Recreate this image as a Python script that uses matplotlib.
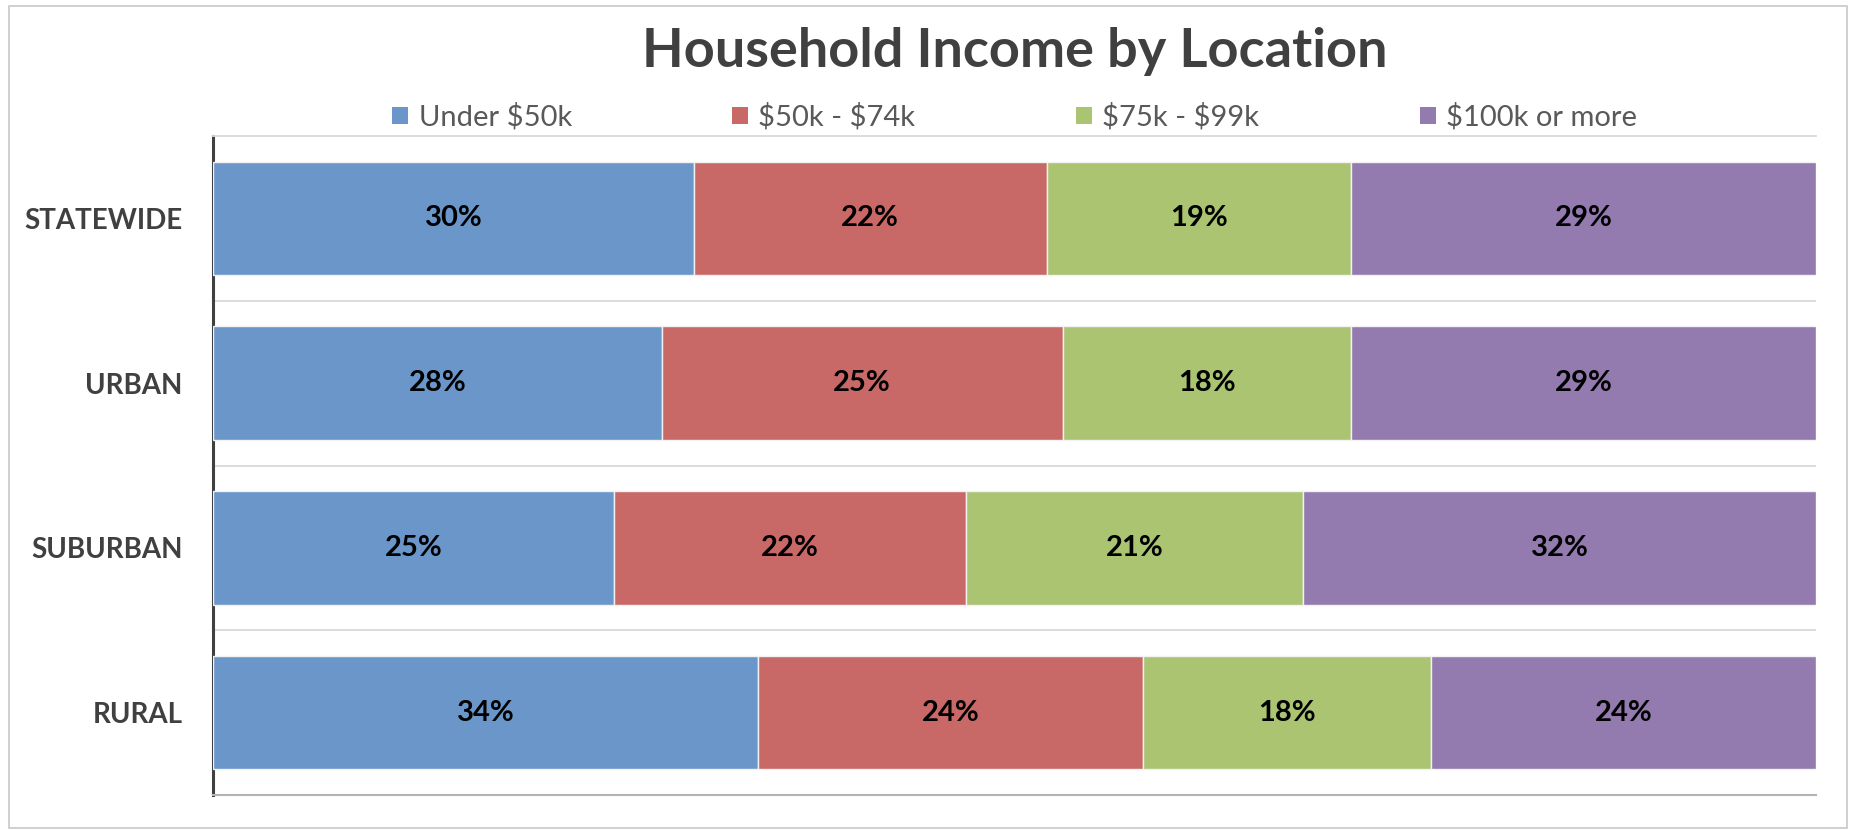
import matplotlib.pyplot as plt
from matplotlib.patches import Rectangle, Patch

locations = ["STATEWIDE", "URBAN", "SUBURBAN", "RURAL"]
brackets = ["Under $50k", "$50k - $74k", "$75k - $99k", "$100k or more"]
under_50k = [30, 28, 25, 34]
k50_74 = [22, 25, 22, 24]
k75_99 = [19, 18, 21, 18]
k100_plus = [29, 29, 32, 24]
colors = ["#6A96C9", "#C96967", "#AAC472", "#937BB0"]

plt.rcParams['font.family'] = ['Lato', 'DejaVu Sans']
plt.rcParams['text.parse_math'] = False

fig = plt.figure(figsize=(18.54, 8.30), dpi=100)
ax = fig.add_axes([0.1149, 0.0422, 0.8646, 0.7939])

# outer chart frame
fig.patches.append(Rectangle((0.005, 0.003), 0.991, 0.99, transform=fig.transFigure,
                             fill=False, edgecolor='#c8c8c8', linewidth=1.2))

series = [under_50k, k50_74, k75_99, k100_plus]
left = [0] * len(locations)
for name, vals, col in zip(brackets, series, colors):
    bars = ax.barh(locations, vals, left=left, height=0.69, color=col,
                   edgecolor='#f2f2f2', linewidth=1.0, label=name, zorder=3)
    for b, v in zip(bars, vals):
        ax.text(b.get_x() + b.get_width() / 2, b.get_y() + b.get_height() / 2,
                f"{v}%", ha='center', va='center', fontsize=21, fontweight='bold',
                color='black', zorder=4)
    left = [l + v for l, v in zip(left, vals)]

ax.set_xlim(0, 100)
ax.set_ylim(3.5, -0.5)
ax.set_xticks([])
ax.tick_params(axis='y', length=0, pad=22)
for lbl in ax.get_yticklabels():
    lbl.set_fontsize(20)
    lbl.set_fontweight('bold')
    lbl.set_color('#404040')

# gridlines between categories
for y in [0.5, 1.5, 2.5]:
    ax.axhline(y, color='#d9d9d9', linewidth=1.3, zorder=1)
ax.spines['top'].set_color('#d9d9d9')
ax.spines['top'].set_linewidth(1.3)
ax.spines['right'].set_visible(False)
ax.spines['bottom'].set_color('#b3b3b3')
ax.spines['bottom'].set_linewidth(1.5)
ax.spines['left'].set_color('#404040')
ax.spines['left'].set_linewidth(2.2)

ax.set_title("Household Income by Location", fontsize=39, fontweight='bold',
             color='#404040', pad=50)

handles = [Patch(facecolor=c, edgecolor='none') for c in colors]
ax.legend(handles, brackets, loc='lower center', bbox_to_anchor=(0.5, 0.99), ncol=4,
          frameon=False, fontsize=21, handlelength=0.55, handleheight=0.55,
          handletextpad=0.35, columnspacing=5.5, labelcolor='#595959',
          borderaxespad=0.0)

fig.savefig("out.png", dpi=100)
